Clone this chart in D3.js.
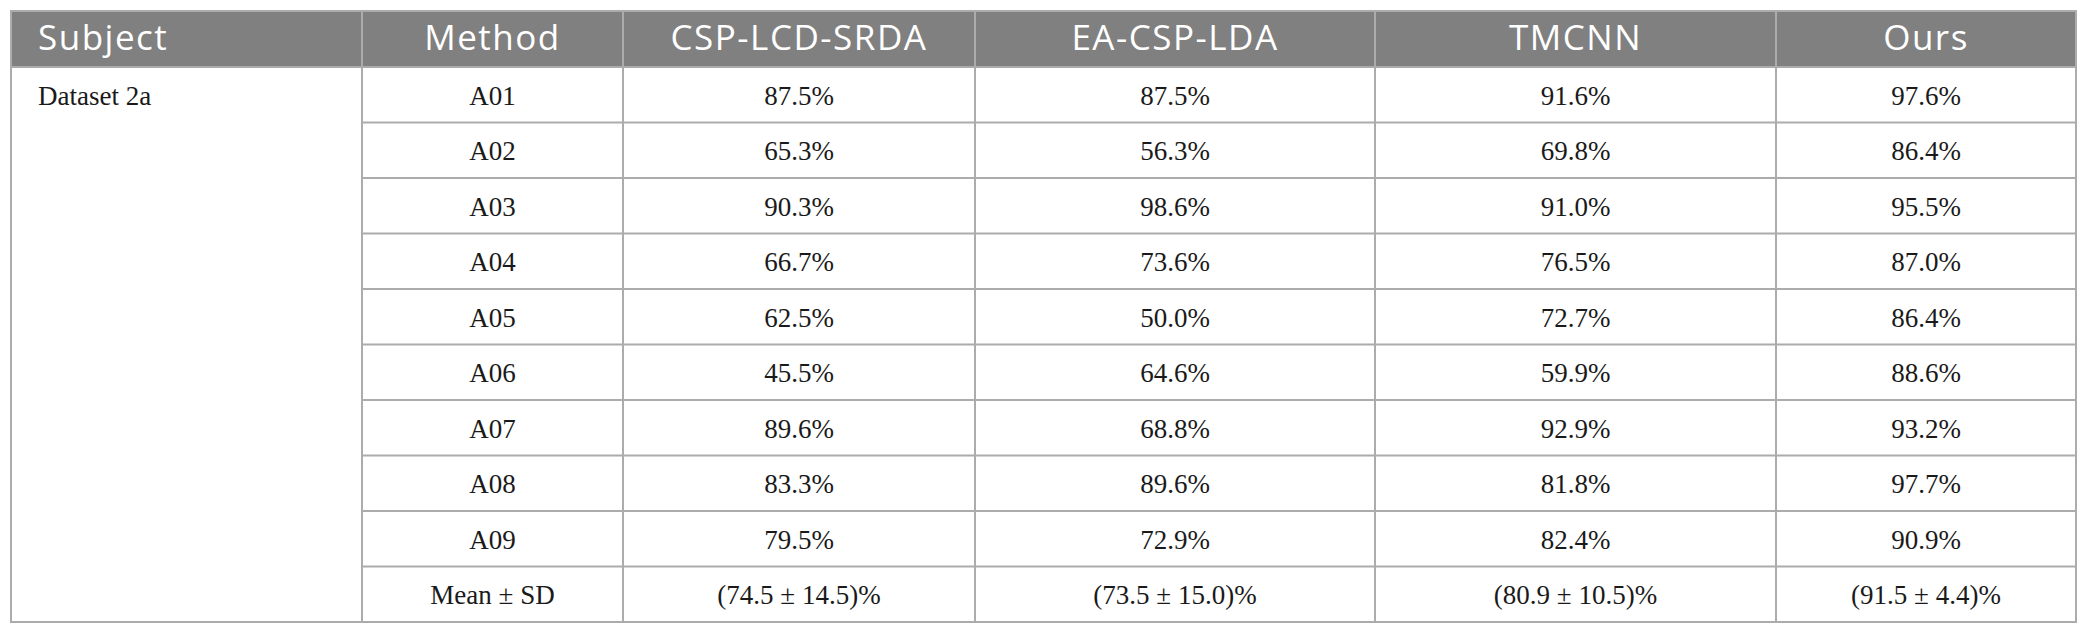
<!DOCTYPE html>
<html>
<head>
<meta charset="utf-8">
<script src="https://cdn.jsdelivr.net/npm/d3@7"></script>
<style>
  html, body { margin: 0; padding: 0; background: #fff; }
  .head { font-family: 'Open Sans', sans-serif; font-size: 35px; fill: #fff; letter-spacing: 1.5px; }
  .cell { font-family: 'Liberation Serif', 'DejaVu Serif', serif; font-size: 27px; fill: #1a1a1a; }
</style>
</head>
<body>
<div id="chart"></div>
<script>
// table content
var headers = ['Subject', 'Method', 'CSP-LCD-SRDA', 'EA-CSP-LDA', 'TMCNN', 'Ours'];
var subject = 'Dataset 2a';
var methods = ['A01', 'A02', 'A03', 'A04', 'A05', 'A06', 'A07', 'A08', 'A09', 'Mean \u00b1 SD'];
var cspLcdSrda = ['87.5%', '65.3%', '90.3%', '66.7%', '62.5%', '45.5%', '89.6%', '83.3%', '79.5%', '(74.5 \u00b1 14.5)%'];
var eaCspLda = ['87.5%', '56.3%', '98.6%', '73.6%', '50.0%', '64.6%', '68.8%', '89.6%', '72.9%', '(73.5 \u00b1 15.0)%'];
var tmcnn = ['91.6%', '69.8%', '91.0%', '76.5%', '72.7%', '59.9%', '92.9%', '81.8%', '82.4%', '(80.9 \u00b1 10.5)%'];
var ours = ['97.6%', '86.4%', '95.5%', '87.0%', '86.4%', '88.6%', '93.2%', '97.7%', '90.9%', '(91.5 \u00b1 4.4)%'];

var width = 2089, height = 635;
// note: "top" is taken by window.top, so use other names
var tLeft = 11, tRight = 2076, tTop = 11, headBottom = 67, tBottom = 622;
var colEdges = [tLeft, 362, 623, 975, 1375, 1776, tRight];
var lineColor = '#acacac';

var svg = d3.select('#chart').append('svg')
  .attr('width', width)
  .attr('height', height);

var colX = d3.scaleOrdinal().domain(headers).range(colEdges.slice(0, 6));
var colW = d3.scaleOrdinal().domain(headers).range(colEdges.slice(1).map(function(e, i) { return e - colEdges[i]; }));

var rowY = d3.scaleBand()
  .domain(methods)
  .range([headBottom, tBottom]);

// header band
svg.append('rect')
  .attr('x', tLeft).attr('y', tTop)
  .attr('width', tRight - tLeft).attr('height', headBottom - tTop)
  .attr('fill', '#808080');

svg.selectAll('text.head')
  .data(headers)
  .enter().append('text')
  .attr('class', 'head')
  .attr('x', function(d, i) { return i === 0 ? colX(d) + 27 : colX(d) + colW(d) / 2; })
  .attr('y', 50)
  .attr('text-anchor', function(d, i) { return i === 0 ? 'start' : 'middle'; })
  .text(function(d) { return d; });

// horizontal row lines (not across the subject column)
svg.selectAll('line.row')
  .data(methods.slice(1))
  .enter().append('line')
  .attr('x1', colEdges[1]).attr('x2', tRight)
  .attr('y1', function(d) { return rowY(d); })
  .attr('y2', function(d) { return rowY(d); })
  .attr('stroke', lineColor).attr('stroke-width', 2);

// vertical column lines
svg.selectAll('line.col')
  .data(colEdges.slice(1, 6))
  .enter().append('line')
  .attr('x1', function(d) { return d; }).attr('x2', function(d) { return d; })
  .attr('y1', tTop).attr('y2', tBottom)
  .attr('stroke', lineColor).attr('stroke-width', 2);

// header bottom line
svg.append('line')
  .attr('x1', tLeft).attr('x2', tRight)
  .attr('y1', headBottom).attr('y2', headBottom)
  .attr('stroke', lineColor).attr('stroke-width', 2);

// outer frame
svg.append('rect')
  .attr('x', tLeft).attr('y', tTop)
  .attr('width', tRight - tLeft).attr('height', tBottom - tTop)
  .attr('fill', 'none')
  .attr('stroke', lineColor).attr('stroke-width', 2);

// subject label
svg.append('text')
  .attr('class', 'cell')
  .attr('x', tLeft + 27)
  .attr('y', rowY(methods[0]) + rowY.bandwidth() / 2 + 10)
  .text(subject);

var columns = [
  { key: 'Method', values: methods },
  { key: 'CSP-LCD-SRDA', values: cspLcdSrda },
  { key: 'EA-CSP-LDA', values: eaCspLda },
  { key: 'TMCNN', values: tmcnn },
  { key: 'Ours', values: ours }
];

columns.forEach(function(c) {
  svg.selectAll(null)
    .data(c.values)
    .enter().append('text')
    .attr('class', 'cell')
    .attr('x', colX(c.key) + colW(c.key) / 2)
    .attr('y', function(d, i) { return rowY(methods[i]) + rowY.bandwidth() / 2 + 10; })
    .attr('text-anchor', 'middle')
    .text(function(d) { return d; });
});
</script>
</body>
</html>
